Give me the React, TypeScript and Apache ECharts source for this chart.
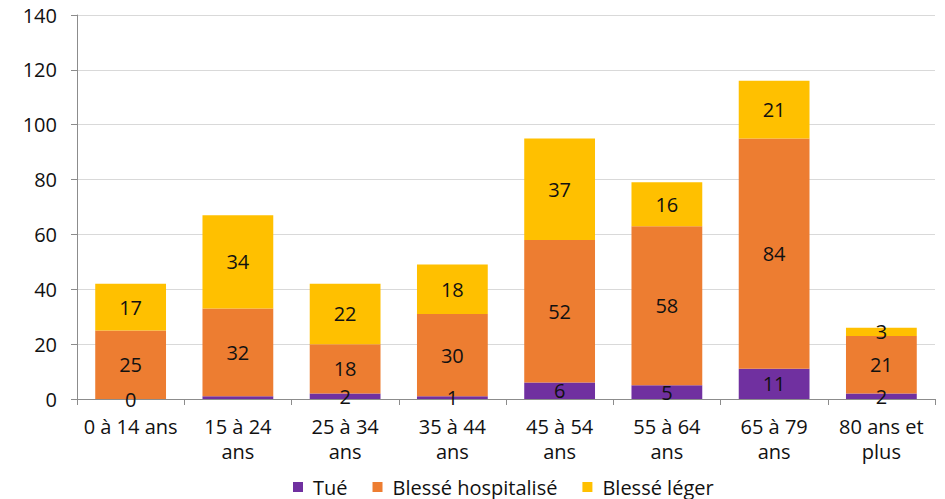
import React, { useEffect, useRef } from "react";
import * as echarts from "echarts";

const categories = [
  "0 à 14 ans",
  "15 à 24\nans",
  "25 à 34\nans",
  "35 à 44\nans",
  "45 à 54\nans",
  "55 à 64\nans",
  "65 à 79\nans",
  "80 ans et\nplus",
];
const tue = [0, 1, 2, 1, 6, 5, 11, 2];
const hospitalise = [25, 32, 18, 30, 52, 58, 84, 21];
const leger = [17, 34, 22, 18, 37, 16, 21, 3];
const hiddenTueLabels = [1];

const FONT = "'Open Sans', 'Noto Sans', sans-serif";
const FS = 20;

export default function App() {
  const ref = useRef<HTMLDivElement>(null);
  useEffect(() => {
    if (!ref.current) return;
    const chart = echarts.init(ref.current, undefined, { renderer: "svg" });
    const labelStyle = {
      show: true,
      position: "inside" as const,
      color: "#111111",
      fontSize: FS,
      fontFamily: FONT,
    };
    chart.setOption({
      animation: false,
      textStyle: { fontFamily: FONT },
      grid: { left: 77, right: 10, top: 15, bottom: 100, containLabel: false },
      legend: {
        top: 472,
        left: 288,
        itemWidth: 10,
        itemHeight: 10,
        itemGap: 25,
        itemStyle: { borderWidth: 0 },
        icon: "rect",
        textStyle: { fontSize: FS, color: "#111111", fontFamily: FONT, padding: [0, 0, 0, 5] },
        data: ["Tué", "Blessé hospitalisé", "Blessé léger"],
      },
      xAxis: {
        type: "category",
        data: categories,
        axisLine: { show: true, lineStyle: { color: "#8c8c8c" } },
        axisTick: { show: true, length: 6, alignWithLabel: false, lineStyle: { color: "#8c8c8c" } },
        axisLabel: {
          color: "#111111",
          fontSize: FS,
          lineHeight: 25,
          margin: 15,
          fontFamily: FONT,
          interval: 0,
        },
      },
      yAxis: {
        type: "value",
        min: 0,
        max: 140,
        interval: 20,
        axisLine: { show: true, lineStyle: { color: "#8c8c8c" } },
        axisTick: { show: true, length: 6, lineStyle: { color: "#8c8c8c" } },
        splitLine: { lineStyle: { color: "#d9d9d9" } },
        axisLabel: { color: "#111111", fontSize: FS, margin: 20, fontFamily: FONT },
      },
      series: [
        {
          name: "Tué",
          type: "bar",
          stack: "total",
          barCategoryGap: "34%",
          itemStyle: { color: "#7030A0" },
          label: labelStyle,
          data: tue.map((v, i) =>
            hiddenTueLabels.includes(i) ? { value: v, label: { show: false } } : v
          ),
        },
        {
          name: "Blessé hospitalisé",
          type: "bar",
          stack: "total",
          barCategoryGap: "34%",
          itemStyle: { color: "#ED7D31" },
          label: labelStyle,
          data: hospitalise,
        },
        {
          name: "Blessé léger",
          type: "bar",
          stack: "total",
          barCategoryGap: "34%",
          itemStyle: { color: "#FFC000" },
          label: labelStyle,
          data: leger,
        },
      ],
    });
    return () => chart.dispose();
  }, []);
  return <div ref={ref} style={{ width: 945, height: 499, position: "absolute", left: 0, top: 0 }} />;
}
